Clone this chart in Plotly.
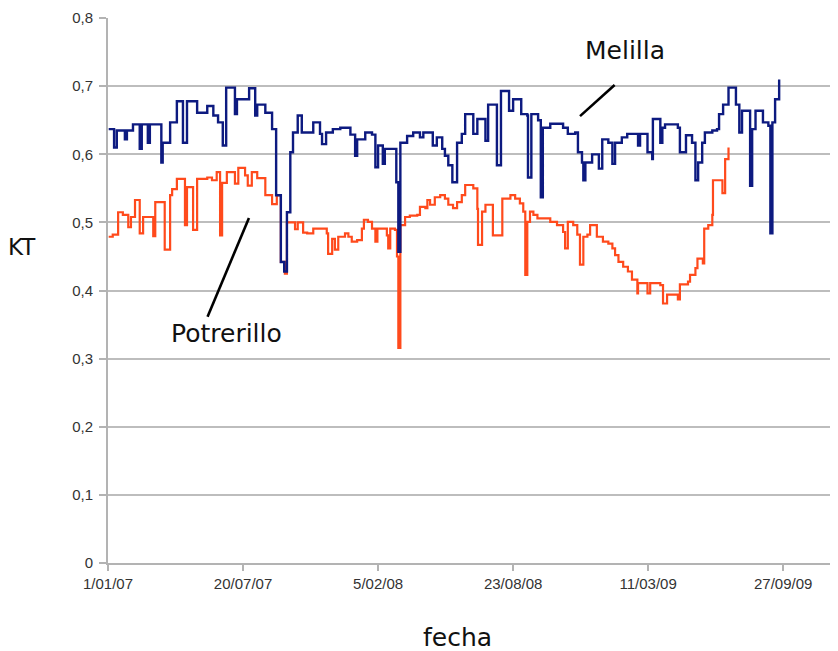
import pandas as pd
import plotly.graph_objects as go

start = pd.Timestamp("2007-01-01")

# Melilla (day offset from 1/01/07, KT)
melilla_days = [1, 9, 13, 25, 28, 37, 47, 50, 59, 62, 79, 81, 92, 102, 111, 117, 132, 147, 156, 163,
                170, 175, 188, 191, 209, 218, 221, 233, 243, 249, 256, 261, 265, 270, 274, 281, 287,
                304, 314, 317, 323, 333, 344, 359, 366, 369, 381, 391, 396, 400, 407, 410, 427, 430,
                433, 443, 452, 462, 467, 481, 487, 495, 499, 504, 510, 517, 524, 529, 541, 547, 559,
                563, 576, 582, 594, 600, 612, 621, 622, 627, 637, 641, 644, 655, 674, 681, 692, 696,
                702, 704, 707, 717, 727, 732, 741, 747, 751, 761, 769, 785, 788, 799, 806, 807, 818,
                821, 825, 844, 847, 856, 865, 870, 874, 880, 884, 895, 902, 905, 911, 919, 930, 935,
                939, 951, 954, 959, 970, 978, 981, 984, 988, 994]
melilla_kt = [0.637, 0.610, 0.635, 0.622, 0.635, 0.644, 0.608, 0.644, 0.617, 0.644, 0.588, 0.617, 0.647,
              0.678, 0.617, 0.678, 0.661, 0.671, 0.657, 0.647, 0.613, 0.698, 0.659, 0.681, 0.697, 0.657,
              0.673, 0.661, 0.637, 0.540, 0.442, 0.428, 0.515, 0.603, 0.632, 0.657, 0.632, 0.647, 0.630,
              0.615, 0.632, 0.637, 0.639, 0.629, 0.598, 0.622, 0.632, 0.629, 0.581, 0.613, 0.586, 0.608,
              0.559, 0.457, 0.617, 0.627, 0.632, 0.625, 0.632, 0.613, 0.625, 0.608, 0.598, 0.584, 0.559,
              0.617, 0.630, 0.659, 0.630, 0.652, 0.620, 0.673, 0.584, 0.693, 0.664, 0.681, 0.659, 0.657,
              0.566, 0.659, 0.650, 0.537, 0.639, 0.645, 0.639, 0.630, 0.632, 0.603, 0.588, 0.562, 0.588,
              0.600, 0.579, 0.622, 0.617, 0.586, 0.617, 0.625, 0.630, 0.613, 0.630, 0.603, 0.593, 0.652,
              0.617, 0.639, 0.644, 0.639, 0.603, 0.628, 0.617, 0.562, 0.588, 0.617, 0.632, 0.635, 0.637,
              0.659, 0.673, 0.698, 0.673, 0.632, 0.664, 0.554, 0.637, 0.664, 0.647, 0.642, 0.484, 0.647,
              0.681, 0.710]

# Potrerillo (day offset from 1/01/07, KT)
potrerillo_days = [1, 7, 15, 22, 30, 34, 40, 47, 52, 67, 70, 84, 92, 95, 102, 114, 117, 126, 132, 147,
                   154, 161, 166, 169, 176, 188, 193, 203, 207, 213, 221, 233, 243, 250, 256, 262, 265,
                   277, 281, 289, 295, 304, 324, 326, 332, 336, 341, 351, 356, 361, 369, 376, 379, 385,
                   391, 396, 399, 413, 415, 418, 425, 428, 430, 433, 440, 447, 458, 462, 470, 473, 477,
                   484, 492, 499, 504, 511, 517, 524, 529, 541, 547, 548, 554, 559, 570, 584, 596, 603,
                   610, 615, 618, 621, 625, 630, 636, 655, 665, 674, 677, 681, 689, 695, 699, 704, 710,
                   714, 724, 733, 741, 747, 751, 756, 763, 770, 776, 784, 785, 799, 803, 818, 822, 828,
                   844, 847, 859, 862, 870, 873, 881, 883, 889, 895, 896, 910, 914, 919]
potrerillo_kt = [0.479, 0.482, 0.515, 0.511, 0.493, 0.508, 0.533, 0.484, 0.508, 0.480, 0.530, 0.460,
                 0.540, 0.549, 0.564, 0.496, 0.552, 0.489, 0.564, 0.566, 0.562, 0.574, 0.481, 0.558,
                 0.574, 0.557, 0.580, 0.569, 0.554, 0.574, 0.565, 0.540, 0.527, 0.540, 0.442, 0.425,
                 0.500, 0.490, 0.500, 0.485, 0.484, 0.491, 0.484, 0.454, 0.476, 0.460, 0.479, 0.484,
                 0.479, 0.472, 0.474, 0.491, 0.504, 0.501, 0.491, 0.472, 0.491, 0.481, 0.462, 0.491,
                 0.489, 0.450, 0.316, 0.496, 0.508, 0.510, 0.511, 0.523, 0.521, 0.533, 0.526, 0.537,
                 0.540, 0.535, 0.526, 0.521, 0.530, 0.540, 0.555, 0.550, 0.520, 0.467, 0.516, 0.526,
                 0.481, 0.535, 0.540, 0.535, 0.528, 0.516, 0.423, 0.501, 0.516, 0.511, 0.506, 0.501,
                 0.496, 0.486, 0.462, 0.501, 0.496, 0.482, 0.438, 0.479, 0.482, 0.496, 0.479, 0.472,
                 0.469, 0.462, 0.452, 0.442, 0.435, 0.428, 0.416, 0.396, 0.411, 0.396, 0.411, 0.408,
                 0.381, 0.394, 0.387, 0.409, 0.413, 0.423, 0.433, 0.447, 0.440, 0.491, 0.496, 0.511,
                 0.562, 0.543, 0.593, 0.610]

x_tick_days = [0, 200, 400, 600, 800, 1000]
x_tick_labels = ["1/01/07", "20/07/07", "5/02/08", "23/08/08", "11/03/09", "27/09/09"]
y_tick_vals = [0, 0.1, 0.2, 0.3, 0.4, 0.5, 0.6, 0.7, 0.8]
y_tick_labels = ["0", "0,1", "0,2", "0,3", "0,4", "0,5", "0,6", "0,7", "0,8"]
x_end_day = 1093


def to_dates(days):
    return [start + pd.Timedelta(days=int(d)) for d in days]


fig = go.Figure()
fig.add_trace(go.Scatter(x=to_dates(potrerillo_days), y=potrerillo_kt, mode="lines",
                         line=dict(color="#FF4A1C", width=2.2, shape="hv"), name="Potrerillo"))
fig.add_trace(go.Scatter(x=to_dates(melilla_days), y=melilla_kt, mode="lines",
                         line=dict(color="#0D1A80", width=2.4, shape="hv"), name="Melilla"))

# plot area: 738 px wide, 545 px tall
txt_font = dict(family="DejaVu Sans", size=25, color="#111111")
common = dict(xref="paper", yref="paper", showarrow=False, xanchor="center", yanchor="middle")
fig.add_annotation(text="Melilla", x=0.7005, y=0.941, font=txt_font, **common)
fig.add_annotation(text="Potrerillo", x=0.161, y=0.422, font=txt_font, **common)
fig.add_annotation(text="KT", x=-0.117, y=0.580,
                   font=dict(family="DejaVu Sans", size=23, color="#111111"), **common)
fig.add_annotation(text="fecha", x=0.474, y=-0.136, font=txt_font, **common)

fig.add_shape(type="line", xref="paper", yref="paper", x0=0.6865, y0=0.877, x1=0.6396, y1=0.820,
              line=dict(color="black", width=2.6))
fig.add_shape(type="line", xref="paper", yref="paper", x0=0.191, y0=0.633, x1=0.1349, y1=0.452,
              line=dict(color="black", width=2.6))

fig.update_layout(
    width=838, height=651,
    margin=dict(l=100, r=0, t=10, b=96),
    paper_bgcolor="white", plot_bgcolor="white",
    showlegend=False,
    font=dict(family="Liberation Sans", size=15, color="#333333"),
    xaxis=dict(
        type="date",
        range=[start, start + pd.Timedelta(days=x_end_day)],
        tickvals=to_dates(x_tick_days), ticktext=x_tick_labels,
        showgrid=False, showline=True, linecolor="#B3B3B3", linewidth=2,
        ticks="outside", ticklen=6, tickwidth=1.5, tickcolor="#B3B3B3",
        tickfont=dict(family="Liberation Sans", size=15, color="#333333"),
        zeroline=False, ticklabeloverflow="allow", automargin=False,
    ),
    yaxis=dict(
        range=[0, 0.8002],
        tickvals=y_tick_vals, ticktext=y_tick_labels,
        showgrid=True, gridcolor="#BDBDBD", gridwidth=2,
        showline=True, linecolor="#B3B3B3", linewidth=2,
        ticks="outside", ticklen=7, tickwidth=1.5, tickcolor="#B3B3B3",
        ticklabelstandoff=3, ticklabeloverflow="allow", automargin=False,
        tickfont=dict(family="Liberation Sans", size=15, color="#333333"),
        zeroline=False,
    ),
)

fig.write_html("out.html")
